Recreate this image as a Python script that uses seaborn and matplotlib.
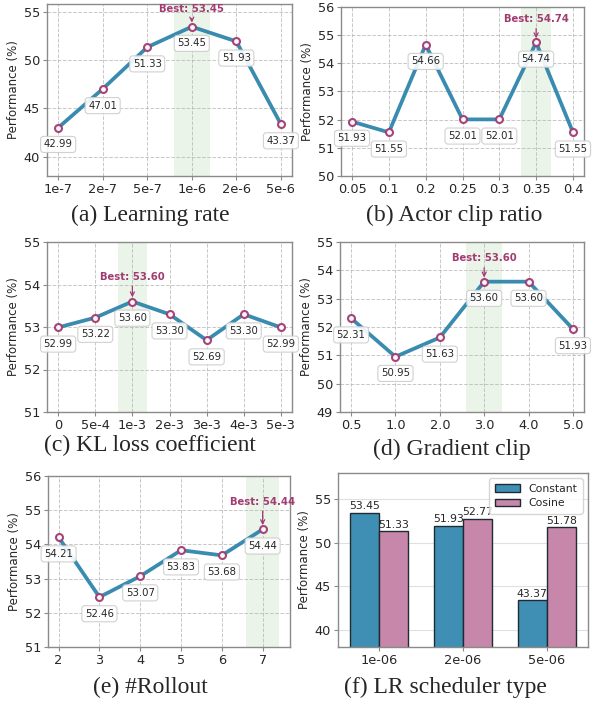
import matplotlib
matplotlib.use("Agg")
import matplotlib.pyplot as plt
import seaborn as sns
import numpy as np
import pandas as pd

# ---------------- data ----------------
lr_labels = ['1e-7', '2e-7', '5e-7', '1e-6', '2e-6', '5e-6']
lr_vals = [42.99, 47.01, 51.33, 53.45, 51.93, 43.37]

clip_labels = ['0.05', '0.1', '0.2', '0.25', '0.3', '0.35', '0.4']
clip_vals = [51.93, 51.55, 54.66, 52.01, 52.01, 54.74, 51.55]

kl_labels = ['0', '5e-4', '1e-3', '2e-3', '3e-3', '4e-3', '5e-3']
kl_vals = [52.99, 53.22, 53.60, 53.30, 52.69, 53.30, 52.99]

gc_labels = ['0.5', '1.0', '2.0', '3.0', '4.0', '5.0']
gc_vals = [52.31, 50.95, 51.63, 53.60, 53.60, 51.93]

ro_labels = ['2', '3', '4', '5', '6', '7']
ro_vals = [54.21, 52.46, 53.07, 53.83, 53.68, 54.44]

sched_groups = ['1e-06', '2e-06', '5e-06']
sched_constant = [53.45, 51.93, 43.37]
sched_cosine = [51.33, 52.77, 51.78]

captions = ['(a) Learning rate', '(b) Actor clip ratio', '(c) KL loss coefficient',
            '(d) Gradient clip', '(e) #Rollout', '(f) LR scheduler type']

# ---------------- style ----------------
sns.set_style("ticks")
plt.rcParams['font.family'] = ['DejaVu Sans']

BLUE = '#2E86AB'
MAG = '#A23B72'
SPINE = '#8a8a8a'

fig = plt.figure(figsize=(5.97, 7.02), dpi=100)

def px_axes(l, t, r, b):
    W, H = 597, 702
    return fig.add_axes([l / W, 1 - b / H, (r - l) / W, (b - t) / H])

def style_ax(ax):
    for s in ax.spines.values():
        s.set_visible(True)
        s.set_color(SPINE)
        s.set_linewidth(1.0)
    ax.tick_params(axis='both', labelsize=9.3, length=3, color=SPINE, pad=2)
    ax.set_ylabel('Performance (%)', fontsize=8.5, labelpad=3)

def line_panel(ax, labels, vals, ylim, yticks, best_off, xlim=None):
    x = np.arange(len(labels))
    best = int(np.argmax(vals))
    ax.axvspan(best - 0.4, best + 0.4, color='#d9ecd6', alpha=0.55, lw=0, zorder=0)
    df = pd.DataFrame({'x': x, 'y': vals})
    sns.lineplot(data=df, x='x', y='y', ax=ax, color=BLUE, lw=2.7, alpha=0.95,
                 marker='o', markersize=5, markerfacecolor='white',
                 markeredgecolor=MAG, markeredgewidth=1.5, zorder=3)
    ax.grid(True, ls='--', color='#b0b0b0', lw=0.7, alpha=0.7)
    ax.set_axisbelow(True)
    ax.set_xticks(x)
    ax.set_xticklabels(labels)
    ax.set_ylim(*ylim)
    ax.set_yticks(yticks)
    if xlim is not None:
        ax.set_xlim(*xlim)
    else:
        m = 0.05 * (len(labels) - 1)
        ax.set_xlim(-m, len(labels) - 1 + m)
    ax.set_xlabel('')
    style_ax(ax)
    for xi, v in zip(x, vals):
        ax.annotate(f'{v:.2f}', xy=(xi, v), xytext=(0, -12), textcoords='offset points',
                    ha='center', va='center', fontsize=7.3, zorder=5,
                    bbox=dict(boxstyle='round,pad=0.3', fc='white', ec='#cccccc',
                              lw=0.8, alpha=0.9))
    ax.annotate(f'Best: {vals[best]:.2f}', xy=(best, vals[best]), xytext=(0, best_off),
                textcoords='offset points', ha='center', va='center', fontsize=7.3,
                fontweight='bold', color=MAG, zorder=6,
                arrowprops=dict(arrowstyle='->', color=MAG, lw=0.9, shrinkA=1, shrinkB=3))

ax_a = px_axes(47, 4, 292, 176)
line_panel(ax_a, lr_labels, lr_vals, (38, 55.8), [40, 45, 50, 55], 13)

ax_b = px_axes(341, 7, 584, 176)
line_panel(ax_b, clip_labels, clip_vals, (50, 56), [50, 51, 52, 53, 54, 55, 56], 17)

ax_c = px_axes(47, 242, 292, 412)
line_panel(ax_c, kl_labels, kl_vals, (51, 55), [51, 52, 53, 54, 55], 18)

ax_d = px_axes(340, 242, 584, 412)
line_panel(ax_d, gc_labels, gc_vals, (49, 55), [49, 50, 51, 52, 53, 54, 55], 17)

ax_e = px_axes(48, 476, 290, 647)
line_panel(ax_e, ro_labels, ro_vals, (51, 56), [51, 52, 53, 54, 55, 56], 20,
           xlim=(-0.26, 5.67))

# ---------------- bar panel ----------------
ax_f = px_axes(338, 473, 588, 647)
dfb = pd.DataFrame({
    'lr': sched_groups * 2,
    'val': sched_constant + sched_cosine,
    'type': ['Constant'] * len(sched_groups) + ['Cosine'] * len(sched_groups),
})
sns.barplot(data=dfb, x='lr', y='val', hue='type', ax=ax_f, width=0.7,
            palette={'Constant': '#3f8fb4', 'Cosine': '#c687aa'},
            edgecolor='#1f2a33', linewidth=1.0, saturation=1, zorder=2)
ax_f.set_ylim(38, 58)
ax_f.set_yticks([40, 45, 50, 55])
ax_f.set_xlim(-0.49, 2.49)
ax_f.grid(True, axis='y', color='#cccccc', lw=0.8, alpha=0.6)
ax_f.set_axisbelow(True)
ax_f.set_xlabel('')
style_ax(ax_f)
for cont in ax_f.containers:
    ax_f.bar_label(cont, labels=[f'{v:.2f}' for v in cont.datavalues], fontsize=7.8, padding=1)
leg = ax_f.legend(loc='upper right', fontsize=7.8, frameon=True, fancybox=True,
                  handlelength=2.3, borderpad=0.5, labelspacing=0.4)
leg.get_frame().set_edgecolor('#cccccc')

# ---------------- captions ----------------
cap_pos = [(150, 215), (454, 215), (150, 445), (452, 449), (150, 687), (445, 687)]
for (cx, cy), t in zip(cap_pos, captions):
    fig.text(cx / 597, 1 - cy / 702, t, ha='center', va='center', fontsize=17,
             family=['Liberation Serif', 'DejaVu Serif'])

fig.savefig('out.png', dpi=100)
